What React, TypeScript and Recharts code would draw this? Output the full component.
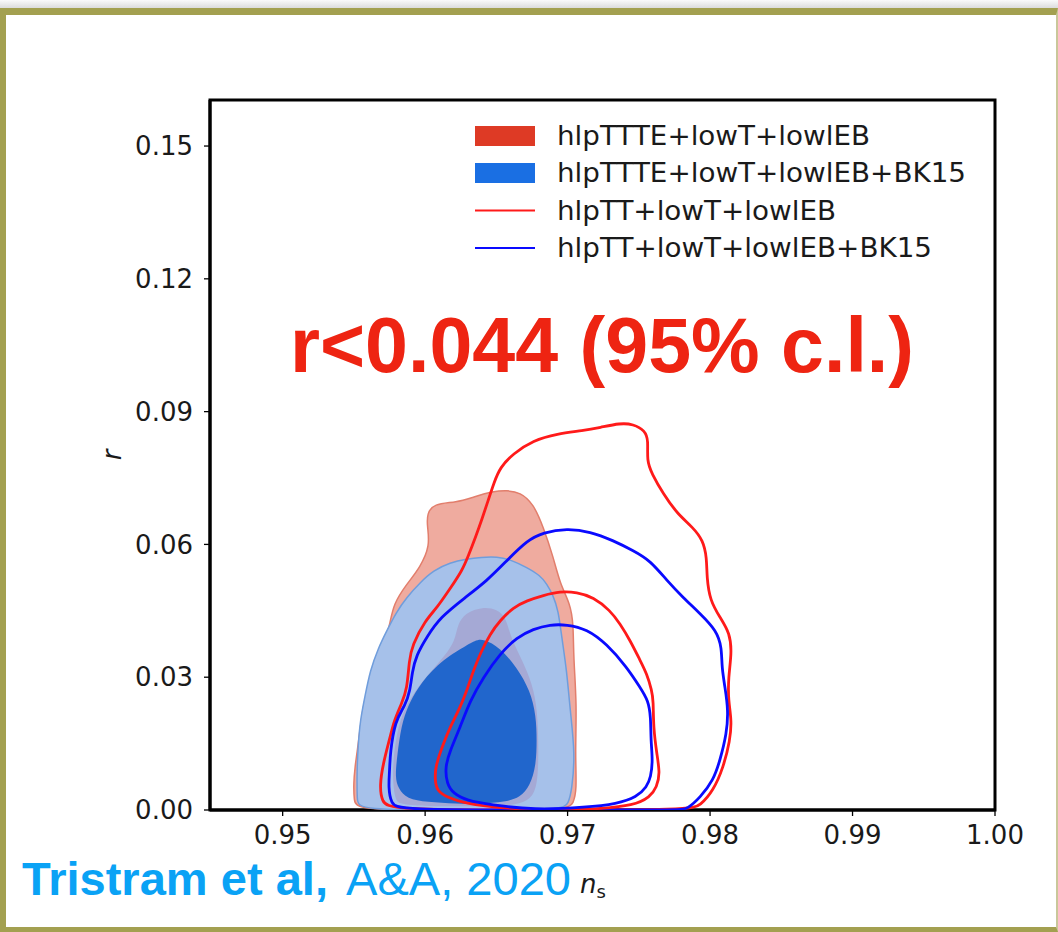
import React from "react";
import { ScatterChart, Scatter, XAxis, YAxis, ReferenceArea } from "recharts";

// axis ticks
const nsTicks = [0.95, 0.96, 0.97, 0.98, 0.99, 1.0];
const rTicks = [0, 0.03, 0.06, 0.09, 0.12, 0.15];
const nsDomain = [0.9449, 1.0];
const rDomain = [0, 0.1604];

// hlpTTTE+lowT+lowlEB, filled 95% and 68% regions  [n_s, r]
const ttteOuter: [number, number][] = [
  [0.95516, 0], [0.95502, 0.0021], [0.95497, 0.0059], [0.95509, 0.0101], [0.95521, 0.0127],
  [0.95544, 0.0184], [0.95567, 0.024], [0.95614, 0.0293], [0.95661, 0.033], [0.95719, 0.0383],
  [0.95754, 0.0421], [0.95778, 0.0466], [0.95872, 0.0511], [0.95965, 0.0548], [0.96035, 0.0597],
  [0.96014, 0.0643], [0.96014, 0.0669], [0.96058, 0.0692], [0.96222, 0.0695], [0.96339, 0.0707],
  [0.96479, 0.072], [0.96575, 0.0722], [0.96667, 0.0718], [0.9676, 0.0692], [0.9683, 0.0639],
  [0.969, 0.0571], [0.96947, 0.0511], [0.97018, 0.0466], [0.97041, 0.0421], [0.97041, 0.0345],
  [0.97065, 0.024], [0.97053, 0.0127], [0.97065, 0.0044], [0.97039, 0.0015], [0.97004, 0],
  [0.9626, 0],
];
const ttteInner: [number, number][] = [
  [0.95825, 0.0014], [0.95789, 0.0021], [0.95768, 0.0078], [0.95789, 0.0157], [0.95839, 0.022],
  [0.9593, 0.027], [0.96035, 0.0311], [0.9614, 0.0349], [0.96211, 0.0383], [0.96225, 0.0417],
  [0.96281, 0.0446], [0.96407, 0.0459], [0.96505, 0.0453], [0.96568, 0.0435], [0.96596, 0.0394],
  [0.96667, 0.0347], [0.96737, 0.0299], [0.96784, 0.0241], [0.96795, 0.0164], [0.96795, 0.0073],
  [0.9676, 0.0028], [0.96667, 0.0014], [0.96526, 0.0008], [0.95965, 0.0008],
];

// hlpTTTE+lowT+lowlEB+BK15, filled
const bkOuter: [number, number][] = [
  [0.9553, 0], [0.95523, 0.0021], [0.95521, 0.0089], [0.9553, 0.0146], [0.95544, 0.0202],
  [0.95579, 0.0259], [0.95614, 0.0315], [0.9567, 0.0365], [0.95731, 0.0405], [0.95796, 0.0446],
  [0.95872, 0.0481], [0.95965, 0.0514], [0.96058, 0.0541], [0.96175, 0.0559], [0.96293, 0.0567],
  [0.96393, 0.0571], [0.96503, 0.0573], [0.96611, 0.0564], [0.96714, 0.0548], [0.96807, 0.053],
  [0.96854, 0.0511], [0.96898, 0.0485], [0.96935, 0.0451], [0.96959, 0.039], [0.96994, 0.0315],
  [0.97018, 0.0225], [0.97053, 0.0127], [0.9703, 0.0044], [0.97004, 0.0015], [0.96971, 0],
  [0.9625, 0],
];
const bkInner: [number, number][] = [
  [0.95872, 0.0025], [0.95811, 0.0049], [0.95789, 0.0074], [0.95804, 0.0123], [0.95832, 0.0191],
  [0.95881, 0.0236], [0.95942, 0.0274], [0.96082, 0.033], [0.96269, 0.0368], [0.96351, 0.0383],
  [0.96409, 0.0387], [0.96526, 0.0367], [0.96644, 0.0322], [0.96737, 0.027], [0.96779, 0.0213],
  [0.96784, 0.0157], [0.96779, 0.0101], [0.96737, 0.0055], [0.96667, 0.0028], [0.96561, 0.0018],
  [0.96386, 0.0014], [0.96222, 0.0014], [0.96012, 0.0018],
];

// hlpTT+lowT+lowlEB, lines
const ttOuter: [number, number][] = [
  [0.95754, 0], [0.95696, 0.0019], [0.95681, 0.0055], [0.95705, 0.0105], [0.95754, 0.0164],
  [0.95782, 0.0202], [0.95836, 0.0241], [0.95874, 0.0274], [0.95888, 0.0338], [0.95909, 0.0372],
  [0.96, 0.0428], [0.96084, 0.0457], [0.96175, 0.05], [0.9626, 0.0541], [0.96302, 0.0573],
  [0.96358, 0.062], [0.964, 0.0658], [0.96442, 0.0699], [0.96484, 0.074], [0.96526, 0.0774],
  [0.96618, 0.0805], [0.96758, 0.0835], [0.96926, 0.085], [0.97109, 0.0857], [0.97228, 0.0864],
  [0.97368, 0.0874], [0.9746, 0.0872], [0.97544, 0.0857], [0.97567, 0.0835], [0.97556, 0.0789],
  [0.97591, 0.076], [0.9767, 0.0715], [0.97768, 0.067], [0.97881, 0.0638], [0.97951, 0.0609],
  [0.97977, 0.057], [0.97977, 0.0525], [0.98, 0.0473], [0.9807, 0.0435], [0.9814, 0.0399],
  [0.98152, 0.0354], [0.98128, 0.0299], [0.98128, 0.0247], [0.98152, 0.0202], [0.9814, 0.0157],
  [0.98093, 0.0096], [0.98023, 0.0044], [0.9793, 0.001], [0.9786, 0], [0.96807, 0],
];
const ttInner: [number, number][] = [
  [0.96807, 0], [0.96526, 0.0005], [0.96293, 0.0014], [0.96152, 0.0029], [0.96082, 0.0044],
  [0.9607, 0.0067], [0.9607, 0.0097], [0.96128, 0.015], [0.96175, 0.0187], [0.96246, 0.0232],
  [0.96293, 0.027], [0.96339, 0.0315], [0.96386, 0.0353], [0.96456, 0.0398], [0.96526, 0.0428],
  [0.9662, 0.0458], [0.96714, 0.0473], [0.9683, 0.0485], [0.96947, 0.0494], [0.97065, 0.0492],
  [0.97181, 0.0481], [0.97298, 0.0451], [0.97368, 0.0421], [0.97439, 0.0383], [0.97509, 0.0338],
  [0.97556, 0.0308], [0.97591, 0.027], [0.97602, 0.0247], [0.97602, 0.0187], [0.97626, 0.0127],
  [0.97649, 0.0082], [0.97626, 0.0052], [0.97579, 0.0029], [0.97462, 0.001], [0.97228, 0.0003],
  [0.97018, 0],
];

// hlpTT+lowT+lowlEB+BK15, lines
const ttBkOuter: [number, number][] = [
  [0.95811, 0], [0.95761, 0.0015], [0.95742, 0.0051], [0.95751, 0.0089], [0.95754, 0.0128],
  [0.95789, 0.0202], [0.9586, 0.0236], [0.95895, 0.027], [0.95909, 0.0311], [0.95937, 0.0349],
  [0.96014, 0.0392], [0.96105, 0.0435], [0.96281, 0.048], [0.96435, 0.0518], [0.96575, 0.0564],
  [0.96716, 0.0609], [0.96828, 0.0627], [0.96996, 0.0636], [0.97158, 0.0629], [0.97319, 0.0609],
  [0.9746, 0.0586], [0.97579, 0.0564], [0.97698, 0.0518], [0.97811, 0.048], [0.9793, 0.0444],
  [0.98047, 0.0405], [0.98082, 0.0367], [0.98082, 0.0322], [0.98105, 0.0277], [0.98128, 0.0225],
  [0.98117, 0.0173], [0.9807, 0.0112], [0.98023, 0.0067], [0.9793, 0.0028], [0.97839, 0.0002],
  [0.97789, 0], [0.96807, 0],
];
const ttBkInner: [number, number][] = [
  [0.9676, 0], [0.96456, 0.0012], [0.96293, 0.0021], [0.96199, 0.0037], [0.96152, 0.0059],
  [0.9614, 0.0097], [0.96175, 0.0134], [0.96246, 0.0187], [0.96316, 0.0247], [0.96409, 0.03],
  [0.96526, 0.0353], [0.96644, 0.039], [0.9676, 0.0409], [0.96877, 0.0419], [0.96994, 0.0419],
  [0.97135, 0.0409], [0.97275, 0.0375], [0.97415, 0.0323], [0.97509, 0.0277], [0.97567, 0.0247],
  [0.97584, 0.021], [0.97584, 0.0157], [0.97598, 0.0112], [0.97584, 0.0074], [0.97556, 0.0052],
  [0.97486, 0.0029], [0.97345, 0.0014], [0.97135, 0.0006],
];

const legendNames = [
  "hlpTTTE+lowT+lowlEB",
  "hlpTTTE+lowT+lowlEB+BK15",
  "hlpTT+lowT+lowlEB",
  "hlpTT+lowT+lowlEB+BK15",
];
const legendWidths = [313, 409, 279, 375];

const pts = (arr: [number, number][]) => arr.map(([x, y]) => ({ x, y }));
const noDot = () => <g />;

const tickFont = { fontSize: 26, fill: "#1a1a1a", fontFamily: "DejaVu Sans" };
const olive = "#a3a050";

export default function App() {
  const layers = [
    { data: ttteOuter, fill: "#efab9f", stroke: "#e27e6c", sw: 1.5 },
    { data: bkOuter, fill: "#a6c1ea", stroke: "#6f9ddc", sw: 1.5 },
    { data: ttteInner, fill: "#a5a9d5", stroke: "none", sw: 0 },
    { data: bkInner, fill: "#2166cc", stroke: "none", sw: 0 },
    { data: ttOuter, fill: "none", stroke: "#ff1a1a", sw: 2.8 },
    { data: ttBkOuter, fill: "none", stroke: "#0a0aff", sw: 2.8 },
    { data: ttInner, fill: "none", stroke: "#ff1a1a", sw: 2.8 },
    { data: ttBkInner, fill: "none", stroke: "#0a0aff", sw: 2.8 },
  ];
  return (
    <div style={{ position: "absolute", left: 0, top: 0, width: 1058, height: 932, background: "#fff", overflow: "hidden" }}>
      <div style={{ position: "absolute", left: 0, top: 0, width: 1058, height: 8, background: "linear-gradient(#fafafa, #dcdcdc)" }} />
      <div
        style={{
          position: "absolute", left: 0, top: 8, width: 1058, height: 924, boxSizing: "border-box",
          borderTop: `7px solid ${olive}`, borderLeft: `6px solid ${olive}`,
          borderBottom: `5px solid ${olive}`, borderRight: `2px solid #c9c79a`,
        }}
      />
      <div style={{ position: "absolute", left: 0, top: 0 }}>
        <ScatterChart width={1058} height={932} margin={{ top: 100, right: 63, bottom: 92, left: 0 }}>
          <XAxis
            type="number" dataKey="x" domain={nsDomain} ticks={nsTicks} allowDataOverflow
            height={30} tickSize={6} tickMargin={10} tick={tickFont}
            tickFormatter={(v: number) => v.toFixed(2)}
            axisLine={{ stroke: "#000", strokeWidth: 3 }} tickLine={{ stroke: "#000", strokeWidth: 1.3 }}
          />
          <YAxis
            type="number" dataKey="y" domain={rDomain} ticks={rTicks} allowDataOverflow
            width={210} tickSize={6} tickMargin={11} tick={tickFont}
            tickFormatter={(v: number) => v.toFixed(2)}
            axisLine={{ stroke: "#000", strokeWidth: 3 }} tickLine={{ stroke: "#000", strokeWidth: 1.3 }}
          />
          {layers.map((l, i) => (
            <Scatter
              key={i}
              data={pts(l.data)}
              shape={noDot}
              line={{ fill: l.fill, stroke: l.stroke, strokeWidth: l.sw, strokeLinejoin: "round" }}
              lineType="joint"
              lineJointType="basisClosed"
              legendType="none"
              isAnimationActive={false}
            />
          ))}
          <ReferenceArea
            x1={nsDomain[0]} x2={nsDomain[1]} y1={rDomain[0]} y2={rDomain[1]}
            fill="none" fillOpacity={0} stroke="#000" strokeWidth={3} ifOverflow="visible"
          />
        </ScatterChart>
      </div>
      <svg width={1058} height={932} style={{ position: "absolute", left: 0, top: 0, pointerEvents: "none" }}>
        {/* legend */}
        <rect x={475} y={126} width={60} height={20} fill="#de3a25" />
        <rect x={475} y={163} width={60} height={20} fill="#1a6fe3" />
        <line x1={475} x2={535} y1={210.5} y2={210.5} stroke="#ff1a1a" strokeWidth={2} />
        <line x1={475} x2={535} y1={248} y2={248} stroke="#0a0aff" strokeWidth={2} />
        {legendNames.map((n, i) => (
          <text
            key={n} x={557} y={136 + i * 37.4 + 9} fontSize={26} fontFamily="DejaVu Sans" fill="#1a1a1a"
            textLength={legendWidths[i]} lengthAdjust="spacingAndGlyphs"
          >
            {n}
          </text>
        ))}
        <text x={290} y={372} fontSize={77} fontWeight="bold" fontFamily="Liberation Sans, Arial" fill="#ee2412"
          textLength={624} lengthAdjust="spacingAndGlyphs">
          r&lt;0.044 (95% c.l.)
        </text>
        <text x={22} y={895} fontSize={46} fontWeight="bold" fontFamily="Liberation Sans, Arial" fill="#0aa2f5"
          textLength={306} lengthAdjust="spacingAndGlyphs">
          Tristram et al,
        </text>
        <text x={346} y={895} fontSize={46} fontFamily="Liberation Sans, Arial" fill="#0aa2f5"
          textLength={225} lengthAdjust="spacingAndGlyphs">
          A&amp;A, 2020
        </text>
        <text x={580} y={893} fontSize={26} fontStyle="italic" fontFamily="DejaVu Sans" fill="#1a1a1a">
          n<tspan fontSize={18} fontStyle="normal" dy={5}>s</tspan>
        </text>
        <text x={121} y={455} fontSize={26} fontStyle="italic" fontFamily="DejaVu Sans" fill="#1a1a1a"
          textAnchor="middle" transform="rotate(-90 121 455)">
          r
        </text>
      </svg>
    </div>
  );
}
